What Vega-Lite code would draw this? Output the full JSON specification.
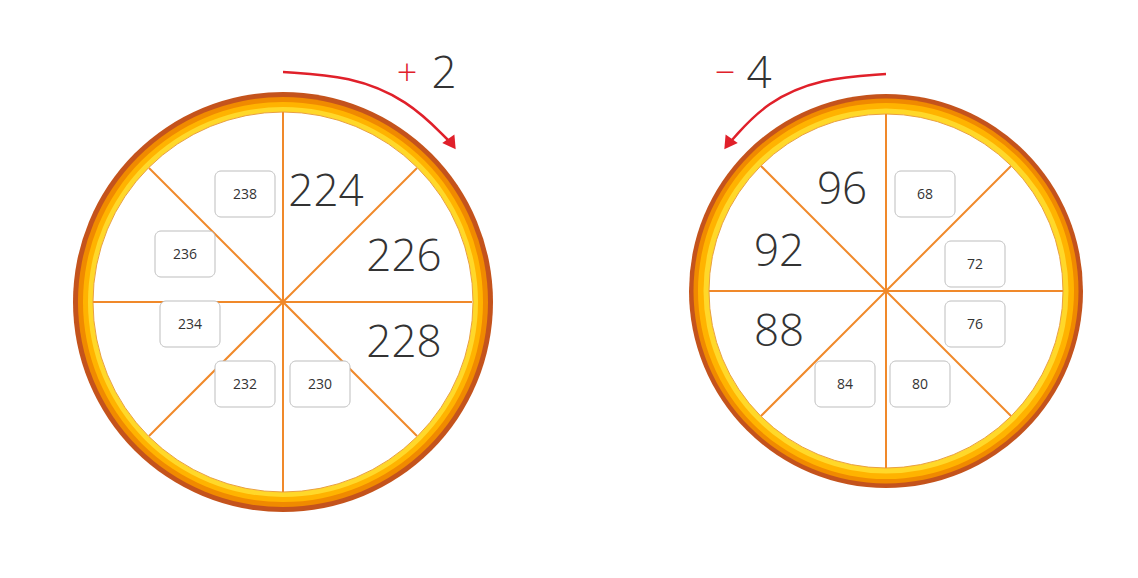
{
"$schema":"https://vega.github.io/schema/vega-lite/v6.json",
"width":1138,"height":578,"autosize":{"type":"none"},"padding":0,
"background":"white",
"config":{"view":{"stroke":null},"font":"Open Sans"},
"datasets":{"centers":[{"w":"L","x":283,"y":302},{"w":"R","x":886,"y":291}]},
"encoding":{
"x":{"field":"x","type":"quantitative","scale":{"domain":[0,1138],"nice":false,"zero":false},"axis":null},
"y":{"field":"y","type":"quantitative","scale":{"domain":[0,578],"nice":false,"zero":false,"reverse":true},"axis":null}},
"layer":[
{"data":{"name":"centers"},"mark":{"type":"point","shape":"circle","filled":true,"opacity":1,"color":"#c4531c"},
"encoding":{"size":{"field":"w","type":"nominal","legend":null,"scale":{"domain":["L","R"],"range":[176400,155236]}}}},
{"data":{"name":"centers"},"mark":{"type":"point","shape":"circle","filled":true,"opacity":1,"color":"#f08a00"},
"encoding":{"size":{"field":"w","type":"nominal","legend":null,"scale":{"domain":["L","R"],"range":[168100,148225]}}}},
{"data":{"name":"centers"},"mark":{"type":"point","shape":"circle","filled":true,"opacity":1,"color":"#ffb300"},
"encoding":{"size":{"field":"w","type":"nominal","legend":null,"scale":{"domain":["L","R"],"range":[160000,141376]}}}},
{"data":{"name":"centers"},"mark":{"type":"point","shape":"circle","filled":true,"opacity":1,"color":"#ffd829"},
"encoding":{"size":{"field":"w","type":"nominal","legend":null,"scale":{"domain":["L","R"],"range":[152100,133225]}}}},
{"data":{"name":"centers"},"mark":{"type":"point","shape":"circle","filled":true,"opacity":1,"color":"#ffffff","stroke":"#e9a040","strokeWidth":1},
"encoding":{"size":{"field":"w","type":"nominal","legend":null,"scale":{"domain":["L","R"],"range":[144400,125316]}}}},
{"data":{"values":[
{"x":93,"y":302,"x2":472,"y2":302},{"x":283,"y":112,"x2":283,"y2":492},{"x":149,"y":168,"x2":417,"y2":436},{"x":149,"y":436,"x2":417,"y2":168},
{"x":709,"y":291,"x2":1063,"y2":291},{"x":886,"y":114,"x2":886,"y2":468},{"x":761,"y":166,"x2":1011,"y2":416},{"x":761,"y":416,"x2":1011,"y2":166}]},
"mark":{"type":"rule","color":"#f0892a","strokeWidth":2},
"encoding":{"x2":{"field":"x2"},"y2":{"field":"y2"}}},
{"data":{"values":[
{"x":215,"y":171,"t":"238"},{"x":155,"y":231,"t":"236"},{"x":160,"y":301,"t":"234"},{"x":215,"y":361,"t":"232"},{"x":290,"y":361,"t":"230"},
{"x":895,"y":171,"t":"68"},{"x":945,"y":241,"t":"72"},{"x":945,"y":301,"t":"76"},{"x":815,"y":361,"t":"84"},{"x":890,"y":361,"t":"80"}]},
"transform":[{"calculate":"datum.x+60","as":"xe"},{"calculate":"datum.y+46","as":"ye"},{"calculate":"datum.x+30","as":"xm"},{"calculate":"datum.y+24","as":"ym"}],
"layer":[
{"mark":{"type":"rect","fill":"white","stroke":"#bdbdbd","cornerRadius":6},
"encoding":{"x2":{"field":"xe"},"y2":{"field":"ye"}}},
{"mark":{"type":"text","fontSize":14,"color":"#333"},
"encoding":{"x":{"field":"xm","type":"quantitative"},"y":{"field":"ym","type":"quantitative"},"text":{"field":"t"}}}]},
{"data":{"values":[
{"x":326,"y":193,"t":"224"},{"x":404,"y":258,"t":"226"},{"x":404,"y":344,"t":"228"},
{"x":842,"y":191,"t":"96"},{"x":779,"y":253,"t":"92"},{"x":779,"y":333,"t":"88"},
{"x":444,"y":75,"t":"2"},{"x":759,"y":75,"t":"4"}]},
"mark":{"type":"text","fontSize":44,"fontWeight":300,"color":"#333"},
"encoding":{"text":{"field":"t"}}},
{"data":{"values":[{"x":407,"y":74,"t":"+"},{"x":725,"y":74,"t":"−"}]},
"mark":{"type":"text","fontSize":36,"fontWeight":300,"color":"#e0202a"},
"encoding":{"text":{"field":"t"}}},
{"data":{"values":[
{"a":"L","i":0,"x":283,"y":72},{"a":"L","i":1,"x":350,"y":76},{"a":"L","i":2,"x":408,"y":100},{"a":"L","i":3,"x":448,"y":140},
{"a":"R","i":0,"x":886,"y":74},{"a":"R","i":1,"x":822,"y":78},{"a":"R","i":2,"x":766,"y":102},{"a":"R","i":3,"x":732,"y":140}]},
"mark":{"type":"line","color":"#e0202a","strokeWidth":2.5,"interpolate":"basis"},
"encoding":{"detail":{"field":"a"},"order":{"field":"i"}}},
{"data":{"values":[{"x":452,"y":144}]},
"mark":{"type":"point","shape":"triangle-up","filled":true,"color":"#e0202a","opacity":1,"size":220,"angle":145},
"encoding":{}},
{"data":{"values":[{"x":728,"y":144}]},
"mark":{"type":"point","shape":"triangle-up","filled":true,"color":"#e0202a","opacity":1,"size":220,"angle":215},
"encoding":{}}
],
"resolve":{"scale":{"size":"independent"}}
}
